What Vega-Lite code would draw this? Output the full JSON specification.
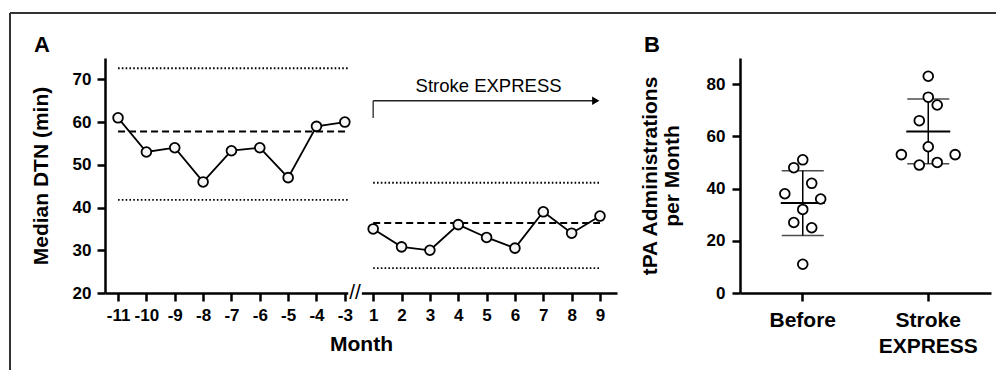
{
  "$schema": "https://vega.github.io/schema/vega-lite/v6.json",
  "padding": {"left": 8, "top": 12, "right": 0, "bottom": 0},
  "autosize": {"type": "pad"},
  "background": "white",
  "spacing": 123,
  "bounds": "flush",
  "config": {
    "view": {"stroke": null},
    "font": "Liberation Sans",
    "axis": {
      "grid": false,
      "labelFont": "Liberation Sans",
      "titleFont": "Liberation Sans",
      "labelFontWeight": "bold",
      "titleFontWeight": "bold",
      "labelColor": "black",
      "titleColor": "black",
      "domainColor": "black",
      "tickColor": "black",
      "domainWidth": 2.5,
      "tickWidth": 2.5,
      "tickSize": 8,
      "labelFontSize": 17,
      "titleFontSize": 21,
      "labelOverlap": false,
      "labelFlush": false
    },
    "title": {"font": "Liberation Sans", "fontWeight": "bold", "fontSize": 22, "color": "black"}
  },
  "datasets": {
    "dtn": [
      {"phase": "Before", "month": -11, "dtn": 61},
      {"phase": "Before", "month": -10, "dtn": 53},
      {"phase": "Before", "month": -9, "dtn": 54},
      {"phase": "Before", "month": -8, "dtn": 46},
      {"phase": "Before", "month": -7, "dtn": 53.3},
      {"phase": "Before", "month": -6, "dtn": 54},
      {"phase": "Before", "month": -5, "dtn": 47},
      {"phase": "Before", "month": -4, "dtn": 59},
      {"phase": "Before", "month": -3, "dtn": 60},
      {"phase": "Stroke EXPRESS", "month": 1, "dtn": 35},
      {"phase": "Stroke EXPRESS", "month": 2, "dtn": 30.8},
      {"phase": "Stroke EXPRESS", "month": 3, "dtn": 30},
      {"phase": "Stroke EXPRESS", "month": 4, "dtn": 36},
      {"phase": "Stroke EXPRESS", "month": 5, "dtn": 33},
      {"phase": "Stroke EXPRESS", "month": 6, "dtn": 30.5},
      {"phase": "Stroke EXPRESS", "month": 7, "dtn": 39},
      {"phase": "Stroke EXPRESS", "month": 8, "dtn": 34},
      {"phase": "Stroke EXPRESS", "month": 9, "dtn": 38}
    ],
    "limits": [
      {"phase": "Before", "kind": "median", "value": 57.8, "from": -11, "to": -3},
      {"phase": "Before", "kind": "limit", "value": 72.6, "from": -11, "to": -3},
      {"phase": "Before", "kind": "limit", "value": 41.8, "from": -11, "to": -3},
      {"phase": "Stroke EXPRESS", "kind": "median", "value": 36.4, "from": 1, "to": 9},
      {"phase": "Stroke EXPRESS", "kind": "limit", "value": 45.8, "from": 1, "to": 9},
      {"phase": "Stroke EXPRESS", "kind": "limit", "value": 25.8, "from": 1, "to": 9}
    ],
    "tpa": [
      {"group": "Before", "slot": 0, "value": 51},
      {"group": "Before", "slot": -1, "value": 48},
      {"group": "Before", "slot": 1, "value": 42},
      {"group": "Before", "slot": -2, "value": 38},
      {"group": "Before", "slot": 2, "value": 36},
      {"group": "Before", "slot": 0, "value": 32},
      {"group": "Before", "slot": -1, "value": 27},
      {"group": "Before", "slot": 1, "value": 25},
      {"group": "Before", "slot": 0, "value": 11},
      {"group": "Stroke EXPRESS", "slot": 0, "value": 83},
      {"group": "Stroke EXPRESS", "slot": 0, "value": 75},
      {"group": "Stroke EXPRESS", "slot": 1, "value": 72},
      {"group": "Stroke EXPRESS", "slot": -1, "value": 66},
      {"group": "Stroke EXPRESS", "slot": 0, "value": 56},
      {"group": "Stroke EXPRESS", "slot": -3, "value": 53},
      {"group": "Stroke EXPRESS", "slot": 3, "value": 53},
      {"group": "Stroke EXPRESS", "slot": -1, "value": 49},
      {"group": "Stroke EXPRESS", "slot": 1, "value": 50}
    ]
  },
  "hconcat": [
    {
      "width": 512,
      "height": 235,
      "layer": [
        {
          "data": {"name": "dtn"},
          "transform": [
            {"calculate": "datum.month < 0 ? datum.month + 11 : datum.month + 8", "as": "idx"}
          ],
          "mark": {"type": "line", "color": "black", "strokeWidth": 1.8},
          "encoding": {
            "x": {"field": "idx", "type": "quantitative", "scale": {"domain": [-0.46, 17.6], "nice": false, "zero": false},
              "axis": {"values": [0, 1, 2, 3, 4, 5, 6, 7, 8, 9, 10, 11, 12, 13, 14, 15, 16, 17], "tickCount": 18, "labelExpr": "datum.value < 8.5 ? '' + (datum.value - 11) : '' + (datum.value - 8)", "labelPadding": 6, "titlePadding": 10, "labelFlush": false, "labelOverlap": false},
              "title": "Month"},
            "y": {"field": "dtn", "type": "quantitative", "scale": {"domain": [20, 75], "nice": false, "zero": false},
              "axis": {"values": [20, 30, 40, 50, 60, 70], "labelPadding": 6, "titlePadding": 21},
              "title": "Median DTN (min)"},
            "detail": {"field": "phase"}
          }
        },
        {
          "data": {"values": [{}]},
          "layer": [
            {
              "mark": {"type": "rule", "color": "#333333", "strokeWidth": 2},
              "encoding": {
                "x": {"datum": -3.811, "type": "quantitative", "title": "Month"},
                "y": {"datum": 85.53, "type": "quantitative", "title": "Median DTN (min)"},
                "y2": {"datum": -30}
              }
            },
            {
              "mark": {"type": "rule", "color": "#333333", "strokeWidth": 2},
              "encoding": {
                "x": {"datum": -3.811, "type": "quantitative", "title": "Month"},
                "x2": {"datum": 40},
                "y": {"datum": 85.53, "type": "quantitative", "title": "Median DTN (min)"}
              }
            },
            {
              "mark": {"type": "text", "text": "A", "fontSize": 22, "fontWeight": "bold", "baseline": "alphabetic", "align": "left", "color": "black"},
              "encoding": {
                "x": {"datum": -2.964, "type": "quantitative", "title": "Month"},
                "y": {"datum": 76.4, "type": "quantitative", "title": "Median DTN (min)"}
              }
            },
            {
              "mark": {"type": "rect", "fill": "white"},
              "encoding": {
                "x": {"datum": 8.12, "type": "quantitative", "title": "Month"},
                "x2": {"datum": 8.6},
                "y": {"datum": 19.2, "type": "quantitative", "title": "Median DTN (min)"},
                "y2": {"datum": 20.8}
              }
            },
            {
              "mark": {"type": "text", "text": "//", "fontSize": 21, "fontWeight": "normal", "baseline": "middle", "align": "center", "color": "black"},
              "encoding": {
                "x": {"datum": 8.36, "type": "quantitative", "title": "Month"},
                "y": {"datum": 20, "type": "quantitative", "title": "Median DTN (min)"}
              }
            },
            {
              "mark": {"type": "rule", "color": "#444444", "strokeWidth": 1.5},
              "encoding": {
                "x": {"datum": 9, "type": "quantitative", "title": "Month"},
                "y": {"datum": 60.96, "type": "quantitative", "title": "Median DTN (min)"},
                "y2": {"datum": 65}
              }
            },
            {
              "mark": {"type": "rule", "color": "#222222", "strokeWidth": 1.5},
              "encoding": {
                "x": {"datum": 9, "type": "quantitative", "title": "Month"},
                "x2": {"datum": 16.9},
                "y": {"datum": 65, "type": "quantitative", "title": "Median DTN (min)"}
              }
            },
            {
              "mark": {"type": "point", "shape": "triangle-right", "filled": true, "color": "black", "size": 70, "opacity": 1},
              "encoding": {
                "x": {"datum": 16.85, "type": "quantitative", "title": "Month"},
                "y": {"datum": 65, "type": "quantitative", "title": "Median DTN (min)"}
              }
            },
            {
              "mark": {"type": "text", "text": "Stroke EXPRESS", "fontSize": 18.5, "fontWeight": "normal", "baseline": "alphabetic", "align": "center", "color": "black"},
              "encoding": {
                "x": {"datum": 13.07, "type": "quantitative", "title": "Month"},
                "y": {"datum": 67.1, "type": "quantitative", "title": "Median DTN (min)"}
              }
            }
          ]
        },
        {
          "data": {"name": "limits"},
          "transform": [
            {"calculate": "datum.from < 0 ? datum.from + 11 : datum.from + 8", "as": "i1"},
            {"calculate": "datum.to < 0 ? datum.to + 11.1 : datum.to + 8", "as": "i2"}
          ],
          "mark": {"type": "rule", "color": "black"},
          "encoding": {
            "x": {"field": "i1", "type": "quantitative", "title": "Month"},
            "x2": {"field": "i2"},
            "y": {"field": "value", "type": "quantitative", "title": "Median DTN (min)"},
            "strokeDash": {"field": "kind", "type": "nominal", "scale": {"domain": ["median", "limit"], "range": [[7, 4], [1.6, 2.2]]}, "legend": null},
            "strokeWidth": {"field": "kind", "type": "nominal", "scale": {"domain": ["median", "limit"], "range": [2, 1.8]}, "legend": null}
          }
        },
        {
          "data": {"name": "dtn"},
          "transform": [
            {"calculate": "datum.month < 0 ? datum.month + 11 : datum.month + 8", "as": "idx"}
          ],
          "mark": {"type": "circle", "size": 95, "fill": "#f5f5f5", "stroke": "black", "strokeWidth": 1.8, "opacity": 1},
          "encoding": {
            "x": {"field": "idx", "type": "quantitative", "title": "Month",
              "axis": {"values": [0, 1, 2, 3, 4, 5, 6, 7, 8, 9, 10, 11, 12, 13, 14, 15, 16, 17], "tickCount": 18, "labelExpr": "datum.value < 8.5 ? '' + (datum.value - 11) : '' + (datum.value - 8)", "labelPadding": 6, "titlePadding": 10, "labelFlush": false, "labelOverlap": false}},
            "y": {"field": "dtn", "type": "quantitative", "title": "Median DTN (min)"}
          }
        }
      ]
    },
    {
      "width": 251,
      "height": 235,
      "title": {"text": "B", "anchor": "start", "frame": "group", "dx": -96, "dy": 23, "offset": 7, "baseline": "alphabetic"},
      "data": {"name": "tpa"},
      "layer": [
        {
          "mark": {"type": "errorbar", "extent": "stdev", "color": "black", "ticks": {"size": 42, "thickness": 1.5, "color": "black"}, "rule": {"strokeWidth": 1.5, "color": "black"}},
          "encoding": {
            "x": {"field": "group", "type": "nominal", "scale": {"domain": ["Before", "Stroke EXPRESS"], "paddingInner": 0, "paddingOuter": 0},
              "axis": {"labelAngle": 0, "labelExpr": "split(datum.label, ' ')", "labelFontSize": 21, "labelLineHeight": 26, "labelPadding": 8}, "title": null},
            "y": {"field": "value", "type": "quantitative", "scale": {"domain": [0, 90], "nice": false, "zero": false},
              "axis": {"values": [0, 20, 40, 60, 80], "labelPadding": 7, "titlePadding": 24, "titleLineHeight": 22},
              "title": ["tPA Administrations", "per Month"]}
          }
        },
        {
          "mark": {"type": "tick", "size": 44, "thickness": 2, "color": "black"},
          "encoding": {
            "x": {"field": "group", "type": "nominal", "title": null},
            "y": {"aggregate": "mean", "field": "value", "type": "quantitative", "title": ["tPA Administrations", "per Month"]}
          }
        },
        {
          "mark": {"type": "circle", "size": 95, "fill": "white", "stroke": "black", "strokeWidth": 1.8, "opacity": 1},
          "encoding": {
            "x": {"field": "group", "type": "nominal", "title": null},
            "xOffset": {"field": "slot", "type": "ordinal", "scale": {"domain": [-7, -6, -5, -4, -3, -2, -1, 0, 1, 2, 3, 4, 5, 6, 7], "paddingInner": 0, "paddingOuter": 0}},
            "y": {"field": "value", "type": "quantitative", "title": ["tPA Administrations", "per Month"]}
          }
        }
      ]
    }
  ]
}
